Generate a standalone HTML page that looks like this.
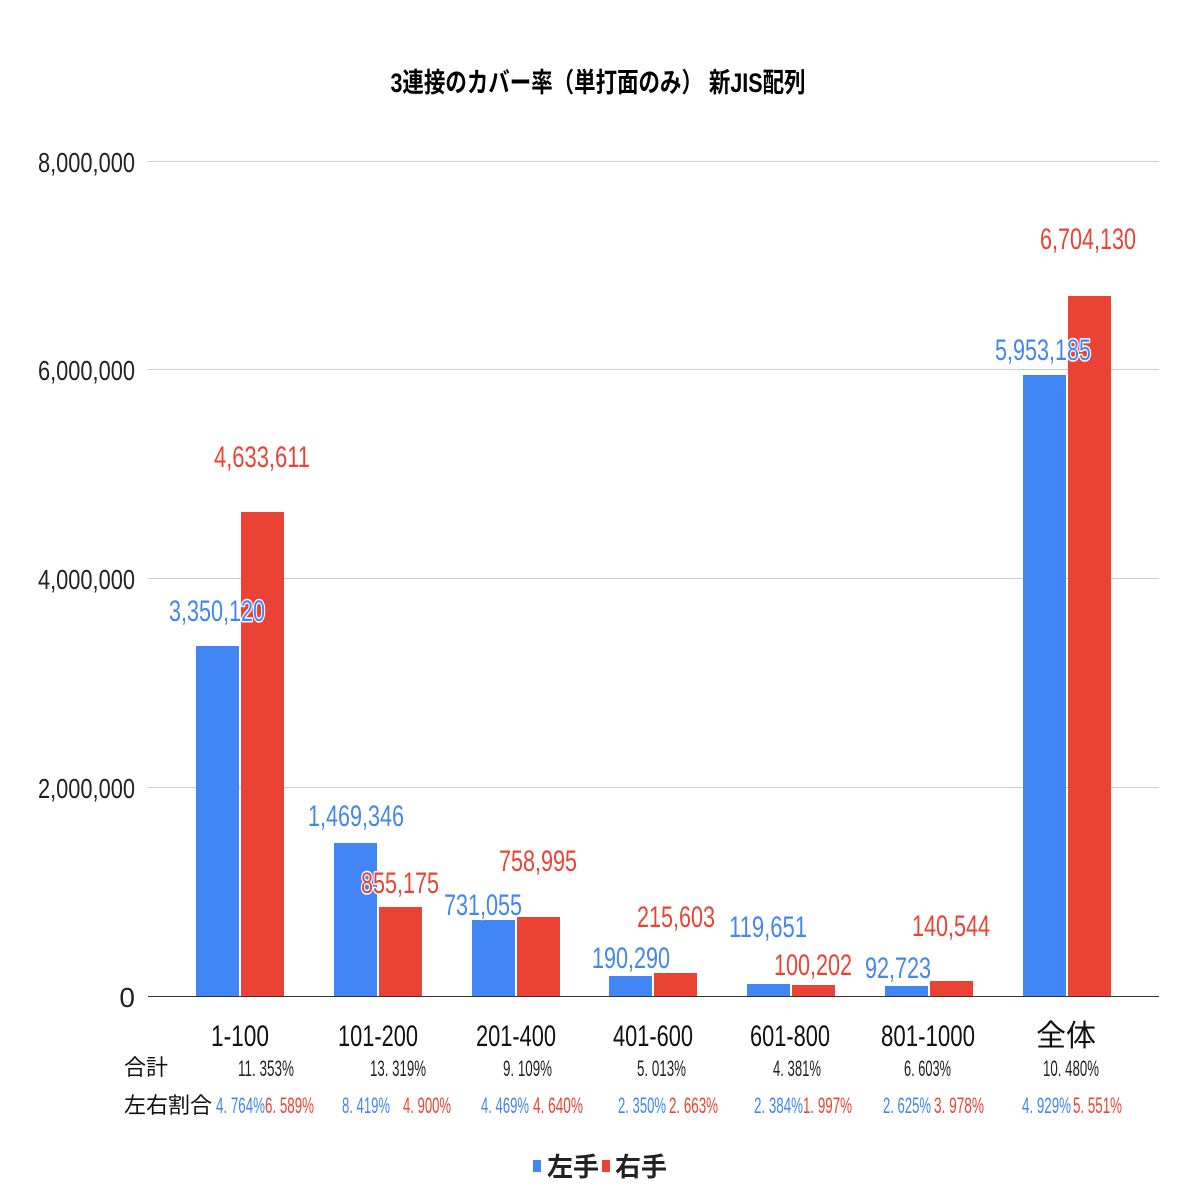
<!DOCTYPE html>
<html><head><meta charset="utf-8"><style>
html,body{margin:0;padding:0;background:#fff;}
svg text{font-family:"Liberation Sans","Noto Sans CJK JP",sans-serif;}
.lab{font-size:30px;stroke:#fff;stroke-width:3px;paint-order:stroke;stroke-linejoin:round}
.b{fill:#4285f4}.r{fill:#ea4335}
</style></head><body>
<svg width="1196" height="1196" viewBox="0 0 1196 1196" xmlns="http://www.w3.org/2000/svg">
<rect width="1196" height="1196" fill="#fff"/>
<text x="598" y="92" text-anchor="middle" font-size="27" font-weight="bold" textLength="415" lengthAdjust="spacingAndGlyphs">3連接のカバー率（単打面のみ） 新JIS配列</text>
<g stroke="#cccccc" stroke-width="1">
<line x1="148" y1="161.5" x2="1159" y2="161.5"/>
<line x1="148" y1="369.5" x2="1159" y2="369.5"/>
<line x1="148" y1="578.5" x2="1159" y2="578.5"/>
<line x1="148" y1="787.5" x2="1159" y2="787.5"/>
</g>
<g font-size="28" text-anchor="end" fill="#222">
<text x="135" y="172" textLength="97" lengthAdjust="spacingAndGlyphs">8,000,000</text>
<text x="135" y="380" textLength="97" lengthAdjust="spacingAndGlyphs">6,000,000</text>
<text x="135" y="589" textLength="97" lengthAdjust="spacingAndGlyphs">4,000,000</text>
<text x="135" y="798" textLength="97" lengthAdjust="spacingAndGlyphs">2,000,000</text>
<text x="135" y="1007">0</text>
</g>
<g>
<rect class="b" x="196" y="646" width="43" height="350"/><rect class="r" x="241" y="512" width="43" height="484"/>
<rect class="b" x="334" y="843" width="43" height="153"/><rect class="r" x="379" y="907" width="43" height="89"/>
<rect class="b" x="472" y="920" width="43" height="76"/><rect class="r" x="517" y="917" width="43" height="79"/>
<rect class="b" x="609" y="976" width="43" height="20"/><rect class="r" x="654" y="973" width="43" height="23"/>
<rect class="b" x="747" y="984" width="43" height="12"/><rect class="r" x="792" y="985" width="43" height="11"/>
<rect class="b" x="885" y="986" width="43" height="10"/><rect class="r" x="930" y="981" width="43" height="15"/>
<rect class="b" x="1023" y="375" width="43" height="621"/><rect class="r" x="1068" y="296" width="43" height="700"/>
</g>
<line x1="148" y1="996.5" x2="1159" y2="996.5" stroke="#333" stroke-width="1"/>
<g class="lab" text-anchor="middle">
<text class="b" x="217" y="621" textLength="96" lengthAdjust="spacingAndGlyphs">3,350,120</text>
<text class="r" x="262" y="467" textLength="96" lengthAdjust="spacingAndGlyphs">4,633,611</text>
<text class="b" x="356" y="826" textLength="96" lengthAdjust="spacingAndGlyphs">1,469,346</text>
<text class="r" x="400" y="893" textLength="78" lengthAdjust="spacingAndGlyphs">855,175</text>
<text class="b" x="483" y="915" textLength="78" lengthAdjust="spacingAndGlyphs">731,055</text>
<text class="r" x="538" y="871" textLength="78" lengthAdjust="spacingAndGlyphs">758,995</text>
<text class="b" x="631" y="968" textLength="78" lengthAdjust="spacingAndGlyphs">190,290</text>
<text class="r" x="676" y="927" textLength="78" lengthAdjust="spacingAndGlyphs">215,603</text>
<text class="b" x="768" y="937" textLength="78" lengthAdjust="spacingAndGlyphs">119,651</text>
<text class="r" x="813" y="975" textLength="78" lengthAdjust="spacingAndGlyphs">100,202</text>
<text class="b" x="898" y="978" textLength="66" lengthAdjust="spacingAndGlyphs">92,723</text>
<text class="r" x="951" y="936" textLength="78" lengthAdjust="spacingAndGlyphs">140,544</text>
<text class="b" x="1043" y="360" textLength="96" lengthAdjust="spacingAndGlyphs">5,953,185</text>
<text class="r" x="1088" y="249" textLength="96" lengthAdjust="spacingAndGlyphs">6,704,130</text>
</g>
<g font-size="30" text-anchor="middle" fill="#111">
<text x="240" y="1046" textLength="58" lengthAdjust="spacingAndGlyphs">1-100</text>
<text x="378" y="1046" textLength="80" lengthAdjust="spacingAndGlyphs">101-200</text>
<text x="516" y="1046" textLength="80" lengthAdjust="spacingAndGlyphs">201-400</text>
<text x="653" y="1046" textLength="80" lengthAdjust="spacingAndGlyphs">401-600</text>
<text x="790" y="1046" textLength="80" lengthAdjust="spacingAndGlyphs">601-800</text>
<text x="928" y="1046" textLength="94" lengthAdjust="spacingAndGlyphs">801-1000</text>
<text x="1066" y="1046">全体</text>
</g>
<g font-size="22" fill="#111">
<text x="124" y="1075">合計</text>
<text x="124" y="1113">左右割合</text>
</g>
<g font-size="22" fill="#222">
<text x="238" y="1076" textLength="56" lengthAdjust="spacingAndGlyphs">11. 353%</text>
<text x="370" y="1076" textLength="56" lengthAdjust="spacingAndGlyphs">13. 319%</text>
<text x="503" y="1076" textLength="49" lengthAdjust="spacingAndGlyphs">9. 109%</text>
<text x="637" y="1076" textLength="49" lengthAdjust="spacingAndGlyphs">5. 013%</text>
<text x="773" y="1076" textLength="48" lengthAdjust="spacingAndGlyphs">4. 381%</text>
<text x="904" y="1076" textLength="47" lengthAdjust="spacingAndGlyphs">6. 603%</text>
<text x="1043" y="1076" textLength="56" lengthAdjust="spacingAndGlyphs">10. 480%</text>
</g>
<g font-size="22">
<text class="b" x="216" y="1113" textLength="49" lengthAdjust="spacingAndGlyphs">4. 764%</text>
<text class="r" x="265" y="1113" textLength="49" lengthAdjust="spacingAndGlyphs">6. 589%</text>
<text class="b" x="342" y="1113" textLength="48" lengthAdjust="spacingAndGlyphs">8. 419%</text>
<text class="r" x="403" y="1113" textLength="48" lengthAdjust="spacingAndGlyphs">4. 900%</text>
<text class="b" x="481" y="1113" textLength="48" lengthAdjust="spacingAndGlyphs">4. 469%</text>
<text class="r" x="533" y="1113" textLength="50" lengthAdjust="spacingAndGlyphs">4. 640%</text>
<text class="b" x="618" y="1113" textLength="48" lengthAdjust="spacingAndGlyphs">2. 350%</text>
<text class="r" x="669" y="1113" textLength="49" lengthAdjust="spacingAndGlyphs">2. 663%</text>
<text class="b" x="754" y="1113" textLength="49" lengthAdjust="spacingAndGlyphs">2. 384%</text>
<text class="r" x="803" y="1113" textLength="49" lengthAdjust="spacingAndGlyphs">1. 997%</text>
<text class="b" x="883" y="1113" textLength="48" lengthAdjust="spacingAndGlyphs">2. 625%</text>
<text class="r" x="934" y="1113" textLength="50" lengthAdjust="spacingAndGlyphs">3. 978%</text>
<text class="b" x="1022" y="1113" textLength="49" lengthAdjust="spacingAndGlyphs">4. 929%</text>
<text class="r" x="1073" y="1113" textLength="49" lengthAdjust="spacingAndGlyphs">5. 551%</text>
</g>
<rect class="b" x="533" y="1160" width="8" height="12"/>
<text x="547" y="1176" font-size="26" font-weight="bold" fill="#222">左手</text>
<rect class="r" x="602" y="1160" width="8" height="12"/>
<text x="615" y="1176" font-size="26" font-weight="bold" fill="#222">右手</text>
</svg>
</body></html>
